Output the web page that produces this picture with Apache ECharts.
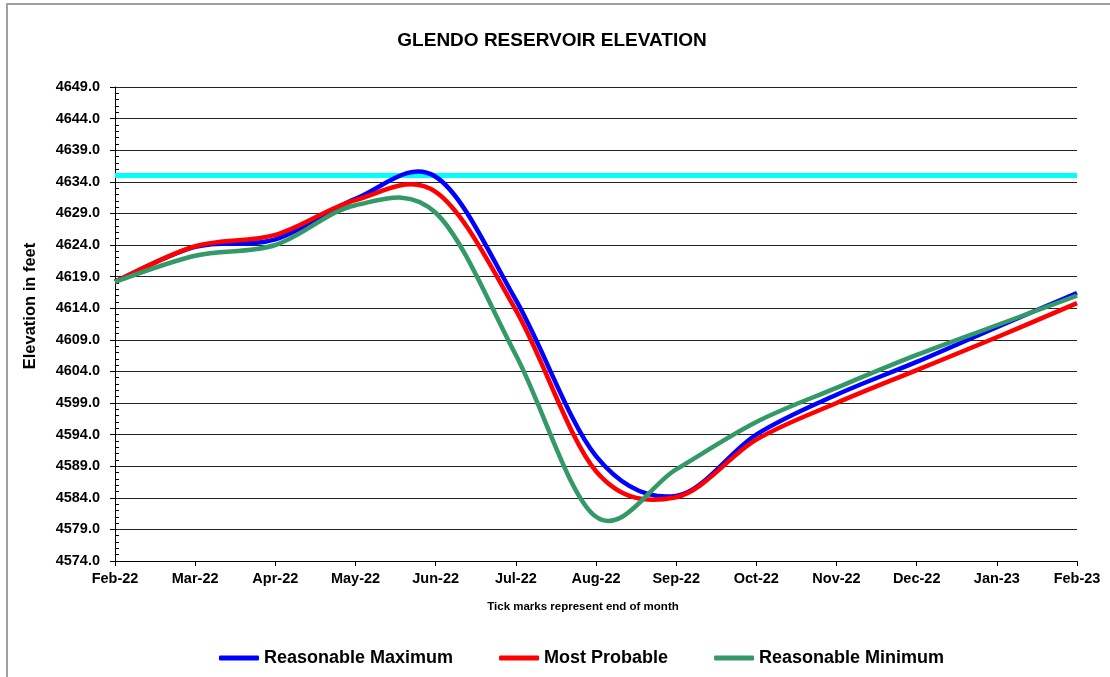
<!DOCTYPE html>
<html>
<head>
<meta charset="utf-8">
<script src="https://cdn.jsdelivr.net/npm/echarts@6/dist/echarts.min.js"></script>
<style>
  html, body { margin: 0; padding: 0; background: #fff; }
  #chart { width: 1110px; height: 677px; }
</style>
</head>
<body>
<div id="chart"></div>
<script>
// month ends
const months = ['Feb-22', 'Mar-22', 'Apr-22', 'May-22', 'Jun-22', 'Jul-22', 'Aug-22',
  'Sep-22', 'Oct-22', 'Nov-22', 'Dec-22', 'Jan-23', 'Feb-23']

// elevations in feet
const reasonableMax = [4618.2, 4623.7, 4624.9, 4631.3, 4634.8, 4615.3, 4590.6,
  4584.3, 4594.0, 4600.3, 4605.5, 4611.0, 4616.4]
const mostProbable = [4618.2, 4623.8, 4625.6, 4631.1, 4632.4, 4613.7, 4588.2,
  4584.1, 4593.2, 4599.0, 4604.2, 4609.4, 4614.8]
const reasonableMin = [4618.2, 4622.3, 4624.0, 4630.3, 4629.1, 4606.6, 4581.0,
  4588.5, 4596.0, 4601.4, 4606.6, 4611.3, 4616.0]

const fullPool = 4635.0

const yMin = 4574
const yMax = 4649
const yStep = 5

const font = 'Liberation Sans, Arial, sans-serif'

// excel style smoothing (catmull-rom through the points)
function smoothPath(pts) {
  let d = 'M' + pts[0][0] + ',' + pts[0][1]
  for (let i = 0; i < pts.length - 1; i++) {
    const p0 = pts[Math.max(i - 1, 0)]
    const p1 = pts[i]
    const p2 = pts[i + 1]
    const p3 = pts[Math.min(i + 2, pts.length - 1)]
    const c1x = p1[0] + (p2[0] - p0[0]) / 6
    const c1y = p1[1] + (p2[1] - p0[1]) / 6
    const c2x = p2[0] - (p3[0] - p1[0]) / 6
    const c2y = p2[1] - (p3[1] - p1[1]) / 6
    d += 'C' + c1x + ',' + c1y + ',' + c2x + ',' + c2y + ',' + p2[0] + ',' + p2[1]
  }
  return d
}

function curveSeries(name, values, color, z) {
  return {
    name: name,
    type: 'custom',
    data: values.map((v, i) => [i, v]),
    encode: { x: 0, y: 1 },
    itemStyle: { color: color },
    z: z,
    renderItem: (params, api) => {
      if (params.dataIndex !== 0) return
      const pts = values.map((v, i) => api.coord([i, v]))
      return {
        type: 'path',
        shape: { pathData: smoothPath(pts) },
        style: { fill: 'none', stroke: color, lineWidth: 4.5, lineJoin: 'round' }
      }
    }
  }
}

const chart = echarts.init(document.getElementById('chart'))

chart.setOption({
  backgroundColor: '#fff',
  animation: false,
  title: [{
    text: 'GLENDO RESERVOIR ELEVATION',
    left: 547,
    top: 26,
    textAlign: 'center',
    textStyle: { fontFamily: font, fontSize: 19, fontWeight: 'bold', color: '#000' }
  }, {
    text: 'Tick marks represent end of month',
    left: 578,
    top: 596,
    textAlign: 'center',
    textStyle: { fontFamily: font, fontSize: 11.5, fontWeight: 'bold', color: '#000' }
  }],
  graphic: [{
    type: 'rect',
    shape: { x: 7, y: 4, width: 1200, height: 800 },
    style: { fill: 'none', stroke: '#a0a0a0', lineWidth: 2 },
    silent: true
  }, {
    type: 'text',
    x: 30,
    y: 306,
    rotation: Math.PI / 2,
    style: {
      text: 'Elevation in feet',
      align: 'center',
      verticalAlign: 'middle',
      font: 'bold 16.5px ' + font,
      fill: '#000'
    },
    silent: true
  }],
  legend: {
    left: 214,
    top: 644,
    itemWidth: 40,
    itemHeight: 5,
    itemGap: 46,
    icon: 'roundRect',
    textStyle: { fontFamily: font, fontSize: 18, fontWeight: 'bold', color: '#000' },
    data: ['Reasonable Maximum', 'Most Probable', 'Reasonable Minimum']
  },
  grid: {
    left: 115,
    right: 33,
    top: 87,
    bottom: 116
  },
  xAxis: {
    type: 'category',
    data: months,
    boundaryGap: false,
    axisLine: { lineStyle: { color: '#000', width: 1 } },
    axisTick: { show: true, length: 5, lineStyle: { color: '#000' } },
    axisLabel: {
      margin: 10,
      fontFamily: font,
      fontSize: 14.5,
      fontWeight: 'bold',
      color: '#000'
    },
    splitLine: { show: false }
  },
  yAxis: [{
    type: 'value',
    min: yMin,
    max: yMax,
    interval: yStep,
    axisLine: { show: true, lineStyle: { color: '#000', width: 1 } },
    axisTick: { show: true, length: 5, lineStyle: { color: '#000' } },
    axisLabel: {
      margin: 15,
      fontFamily: font,
      fontSize: 14.5,
      fontWeight: 'bold',
      color: '#000',
      formatter: v => v.toFixed(1)
    },
    splitLine: { show: true, lineStyle: { color: '#222', width: 1 } }
  }, {
    // minor ticks sit on the inside of the axis
    type: 'value',
    position: 'left',
    min: yMin,
    max: yMax,
    interval: yStep,
    axisLine: { show: false },
    axisTick: { show: false, inside: true },
    minorTick: { show: true, splitNumber: 5, length: 4, lineStyle: { color: '#000' } },
    axisLabel: { show: false },
    splitLine: { show: false }
  }],
  series: [{
    name: 'Full Pool',
    type: 'custom',
    data: [[0, fullPool]],
    encode: { x: 0, y: 1 },
    z: 1,
    renderItem: (params, api) => {
      const a = api.coord([0, fullPool])
      const b = api.coord([months.length - 1, fullPool])
      return {
        type: 'line',
        shape: { x1: a[0], y1: a[1], x2: b[0], y2: b[1] },
        style: { stroke: '#00ffff', lineWidth: 5 }
      }
    }
  },
  curveSeries('Reasonable Maximum', reasonableMax, '#0000ff', 4),
  curveSeries('Most Probable', mostProbable, '#ff0000', 5),
  curveSeries('Reasonable Minimum', reasonableMin, '#339966', 6)
  ]
})
</script>
</body>
</html>
